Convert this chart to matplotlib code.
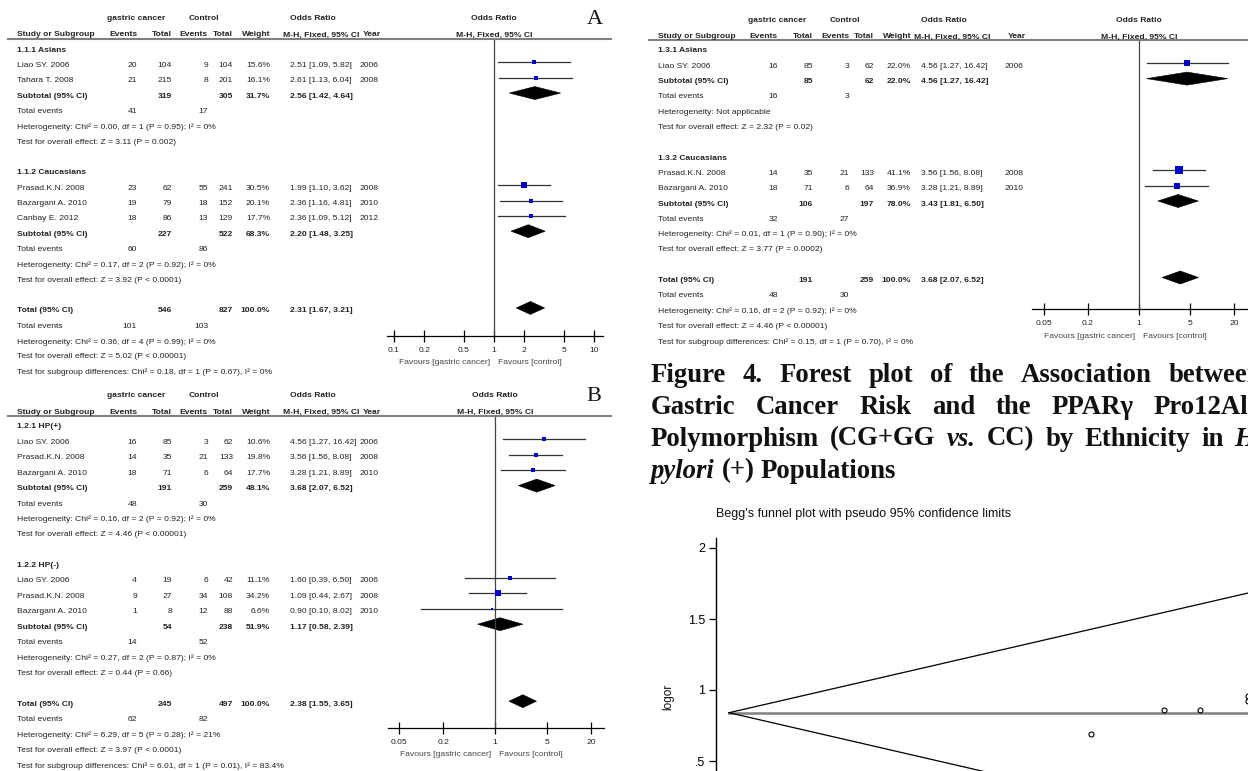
import matplotlib
matplotlib.use("Agg")
import matplotlib.pyplot as plt
from matplotlib.lines import Line2D
from matplotlib.patches import Polygon
from matplotlib.ticker import NullLocator, FixedLocator, FixedFormatter

W, H = 1248, 771
SANS = ["Liberation Sans", "DejaVu Sans"]
SERIF = ["Liberation Serif", "DejaVu Serif"]
FS = 6.1
INK = "#222222"
BLUE = "#0000c8"
plt.rcParams["font.family"] = SANS

# ---------------- Panel A: all populations, by ethnicity ----------------
A_GROUPS = ["1.1.1 Asians", "1.1.2 Caucasians"]
A_STUDY = ["Liao SY. 2006", "Tahara T. 2008", "Prasad.K.N. 2008", "Bazargani A. 2010", "Canbay E. 2012"]
A_GRP = [0, 0, 1, 1, 1]
A_E1 = [20, 21, 23, 19, 18]
A_N1 = [104, 215, 62, 79, 86]
A_E2 = [9, 8, 55, 18, 13]
A_N2 = [104, 201, 241, 152, 129]
A_W = [15.6, 16.1, 30.5, 20.1, 17.7]
A_OR = [2.51, 2.61, 1.99, 2.36, 2.36]
A_LO = [1.09, 1.13, 1.10, 1.16, 1.09]
A_HI = [5.82, 6.04, 3.62, 4.81, 5.12]
A_YEAR = [2006, 2008, 2008, 2010, 2012]
A_SUB_N1 = [319, 227]
A_SUB_N2 = [305, 522]
A_SUB_W = [31.7, 68.3]
A_SUB_OR = [2.56, 2.20]
A_SUB_LO = [1.42, 1.48]
A_SUB_HI = [4.64, 3.25]
A_SUB_TE1 = [41, 60]
A_SUB_TE2 = [17, 86]
A_SUB_HET = ["Heterogeneity: Chi² = 0.00, df = 1 (P = 0.95); I² = 0%",
             "Heterogeneity: Chi² = 0.17, df = 2 (P = 0.92); I² = 0%"]
A_SUB_Z = ["Test for overall effect: Z = 3.11 (P = 0.002)",
           "Test for overall effect: Z = 3.92 (P < 0.0001)"]
A_TOT = [546, 827, 100.0, 2.31, 1.67, 3.21]
A_TOT_TE = [101, 103]
A_TOT_HET = "Heterogeneity: Chi² = 0.36, df = 4 (P = 0.99); I² = 0%"
A_TOT_Z = "Test for overall effect: Z = 5.02 (P < 0.00001)"
A_SG = "Test for subgroup differences: Chi² = 0.18, df = 1 (P = 0.67), I² = 0%"
A_TICKS = [0.1, 0.2, 0.5, 1, 2, 5, 10]

# ---------------- Panel B: by H. pylori status ----------------
B_GROUPS = ["1.2.1 HP(+)", "1.2.2 HP(-)"]
B_STUDY = ["Liao SY. 2006", "Prasad.K.N. 2008", "Bazargani A. 2010",
           "Liao SY. 2006", "Prasad.K.N. 2008", "Bazargani A. 2010"]
B_GRP = [0, 0, 0, 1, 1, 1]
B_E1 = [16, 14, 18, 4, 9, 1]
B_N1 = [85, 35, 71, 19, 27, 8]
B_E2 = [3, 21, 6, 6, 34, 12]
B_N2 = [62, 133, 64, 42, 108, 88]
B_W = [10.6, 19.8, 17.7, 11.1, 34.2, 6.6]
B_OR = [4.56, 3.56, 3.28, 1.60, 1.09, 0.90]
B_LO = [1.27, 1.56, 1.21, 0.39, 0.44, 0.10]
B_HI = [16.42, 8.08, 8.89, 6.50, 2.67, 8.02]
B_YEAR = [2006, 2008, 2010, 2006, 2008, 2010]
B_SUB_N1 = [191, 54]
B_SUB_N2 = [259, 238]
B_SUB_W = [48.1, 51.9]
B_SUB_OR = [3.68, 1.17]
B_SUB_LO = [2.07, 0.58]
B_SUB_HI = [6.52, 2.39]
B_SUB_TE1 = [48, 14]
B_SUB_TE2 = [30, 52]
B_SUB_HET = ["Heterogeneity: Chi² = 0.16, df = 2 (P = 0.92); I² = 0%",
             "Heterogeneity: Chi² = 0.27, df = 2 (P = 0.87); I² = 0%"]
B_SUB_Z = ["Test for overall effect: Z = 4.46 (P < 0.00001)",
           "Test for overall effect: Z = 0.44 (P = 0.66)"]
B_TOT = [245, 497, 100.0, 2.38, 1.55, 3.65]
B_TOT_TE = [62, 82]
B_TOT_HET = "Heterogeneity: Chi² = 6.29, df = 5 (P = 0.28); I² = 21%"
B_TOT_Z = "Test for overall effect: Z = 3.97 (P < 0.0001)"
B_SG = "Test for subgroup differences: Chi² = 6.01, df = 1 (P = 0.01), I² = 83.4%"
B_TICKS = [0.05, 0.2, 1, 5, 20]

# ---------------- Figure 4: HP(+) by ethnicity ----------------
C_GROUPS = ["1.3.1 Asians", "1.3.2 Caucasians"]
C_STUDY = ["Liao SY. 2006", "Prasad.K.N. 2008", "Bazargani A. 2010"]
C_GRP = [0, 1, 1]
C_E1 = [16, 14, 18]
C_N1 = [85, 35, 71]
C_E2 = [3, 21, 6]
C_N2 = [62, 133, 64]
C_W = [22.0, 41.1, 36.9]
C_OR = [4.56, 3.56, 3.28]
C_LO = [1.27, 1.56, 1.21]
C_HI = [16.42, 8.08, 8.89]
C_YEAR = [2006, 2008, 2010]
C_SUB_N1 = [85, 106]
C_SUB_N2 = [62, 197]
C_SUB_W = [22.0, 78.0]
C_SUB_OR = [4.56, 3.43]
C_SUB_LO = [1.27, 1.81]
C_SUB_HI = [16.42, 6.50]
C_SUB_TE1 = [16, 32]
C_SUB_TE2 = [3, 27]
C_SUB_HET = ["Heterogeneity: Not applicable",
             "Heterogeneity: Chi² = 0.01, df = 1 (P = 0.90); I² = 0%"]
C_SUB_Z = ["Test for overall effect: Z = 2.32 (P = 0.02)",
           "Test for overall effect: Z = 3.77 (P = 0.0002)"]
C_TOT = [191, 259, 100.0, 3.68, 2.07, 6.52]
C_TOT_TE = [48, 30]
C_TOT_HET = "Heterogeneity: Chi² = 0.16, df = 2 (P = 0.92); I² = 0%"
C_TOT_Z = "Test for overall effect: Z = 4.46 (P < 0.00001)"
C_SG = "Test for subgroup differences: Chi² = 0.15, df = 1 (P = 0.70), I² = 0%"
C_TICKS = [0.05, 0.2, 1, 5, 20]

# ---------------- Begg's funnel plot ----------------
FUN_SE = [0.30, 0.36, 0.39, 0.43, 0.43]
FUN_LOGOR = [0.69, 0.86, 0.86, 0.92, 0.96]
FUN_POOLED = 0.84
FUN_YTICKS = [0.5, 1, 1.5, 2]
FUN_YLABELS = [".5", "1", "1.5", "2"]

CAPTION = ["Figure 4. Forest plot of the Association between",
           "Gastric Cancer Risk and the PPARγ Pro12Ala",
           "Polymorphism (CG+GG *vs.* CC) by Ethnicity in *H.*",
           "*pylori* (+) Populations"]


def pack(p):
    g = globals()
    keys = ["GROUPS", "STUDY", "GRP", "E1", "N1", "E2", "N2", "W", "OR", "LO", "HI", "YEAR",
            "SUB_N1", "SUB_N2", "SUB_W", "SUB_OR", "SUB_LO", "SUB_HI", "SUB_TE1", "SUB_TE2",
            "SUB_HET", "SUB_Z", "TOT", "TOT_TE", "TOT_HET", "TOT_Z", "SG", "TICKS"]
    return {k: g[p + "_" + k] for k in keys}


fig = plt.figure(figsize=(W / 100, H / 100), dpi=100)


def fx(px):
    return px / W


def fy(py):
    return 1 - py / H


def put(x, y, s, ha="left", bold=False, size=FS, family=SANS, color=INK, **kw):
    return fig.text(fx(x), fy(y), s, ha=ha, va="center", fontsize=size, family=family,
                    fontweight="bold" if bold else "normal", color=color, **kw)


def diamond(ax, c, lo, hi, y, h=6.5):
    ax.add_patch(Polygon([(lo, y), (c, y - h), (hi, y), (c, y + h)], closed=True,
                         fc="black", ec="black", lw=0.4))


def ci_text(o, lo, hi):
    return f"{o:.2f} [{lo:.2f}, {hi:.2f}]"


def forest(d, x0, top, rule_y, row0, step, ref_x, ppd, axis_y, ci_x, year_x):
    # headers
    put(x0 + 136, top, "gastric cancer", "center", True)
    put(x0 + 204, top, "Control", "center", True)
    put(x0 + ci_x + 23, top, "Odds Ratio", "center", True)
    put(ref_x, top, "Odds Ratio", "center", True)
    y2 = top + 16
    put(x0 + 17, y2, "Study or Subgroup", bold=True)
    for cx, s in [(137, "Events"), (172, "Total"), (208, "Events"), (233, "Total"), (270, "Weight")]:
        put(x0 + cx, y2, s, "right", True)
    put(x0 + ci_x - 7, y2, "M-H, Fixed, 95% CI", bold=True)
    put(x0 + year_x + 3, y2, "Year", bold=True)
    put(ref_x, y2, "M-H, Fixed, 95% CI", "center", True)
    fig.add_artist(Line2D([fx(x0 + 8), fx(x0 + 611)], [fy(rule_y)] * 2, color="#808080", lw=1.5))

    # graph area
    left, right = ref_x - 107, ref_x + 109
    ax = fig.add_axes([fx(left), fy(axis_y), (right - left) / W, (axis_y - rule_y) / H])
    ax.set_xscale("log")
    ax.set_xlim(10 ** ((left - ref_x) / ppd), 10 ** ((right - ref_x) / ppd))
    ax.set_ylim(axis_y, rule_y)
    ax.patch.set_alpha(0)
    for s in ("top", "left", "right"):
        ax.spines[s].set_visible(False)
    ax.spines["bottom"].set_linewidth(0.9)
    ax.xaxis.set_major_locator(FixedLocator(d["TICKS"]))
    ax.xaxis.set_major_formatter(FixedFormatter([f"{t:g}" for t in d["TICKS"]]))
    ax.xaxis.set_minor_locator(NullLocator())
    ax.tick_params(axis="x", direction="inout", length=8, width=0.9, labelsize=FS, pad=4,
                   labelcolor=INK)
    ax.set_yticks([])
    ax.axvline(1, color="#444444", lw=0.9)
    put(ref_x - 4, axis_y + 27, "Favours [gastric cancer]", "right", color="#444444")
    put(ref_x + 4, axis_y + 27, "Favours [control]", color="#444444")

    def y_of(i):
        return row0 + step * i

    mk = -3
    i = 0
    for g, name in enumerate(d["GROUPS"]):
        put(x0 + 17, y_of(i), name, bold=True)
        i += 1
        for k, gi in enumerate(d["GRP"]):
            if gi != g:
                continue
            y = y_of(i)
            put(x0 + 17, y, d["STUDY"][k])
            for cx, v in ((137, d["E1"][k]), (172, d["N1"][k]), (208, d["E2"][k]), (233, d["N2"][k])):
                put(x0 + cx, y, str(v), "right")
            put(x0 + 270, y, f"{d['W'][k]:.1f}%", "right")
            put(x0 + ci_x, y, ci_text(d["OR"][k], d["LO"][k], d["HI"][k]))
            put(x0 + year_x, y, str(d["YEAR"][k]))
            ax.plot([d["LO"][k], d["HI"][k]], [y + mk] * 2, color="#333333", lw=0.9)
            ax.plot(d["OR"][k], y + mk, marker="s", ms=0.8 * d["W"][k] ** 0.5, color=BLUE, mew=0)
            i += 1
        y = y_of(i)
        put(x0 + 17, y, "Subtotal (95% CI)", bold=True)
        put(x0 + 172, y, str(d["SUB_N1"][g]), "right", True)
        put(x0 + 233, y, str(d["SUB_N2"][g]), "right", True)
        put(x0 + 270, y, f"{d['SUB_W'][g]:.1f}%", "right", True)
        put(x0 + ci_x, y, ci_text(d["SUB_OR"][g], d["SUB_LO"][g], d["SUB_HI"][g]), bold=True)
        diamond(ax, d["SUB_OR"][g], d["SUB_LO"][g], d["SUB_HI"][g], y + mk)
        i += 1
        y = y_of(i)
        put(x0 + 17, y, "Total events")
        put(x0 + 137, y, str(d["SUB_TE1"][g]), "right")
        put(x0 + 208, y, str(d["SUB_TE2"][g]), "right")
        put(x0 + 17, y_of(i + 1), d["SUB_HET"][g])
        put(x0 + 17, y_of(i + 2), d["SUB_Z"][g])
        i += 4

    n1, n2, w, o, lo, hi = d["TOT"]
    y = y_of(i)
    put(x0 + 17, y, "Total (95% CI)", bold=True)
    put(x0 + 172, y, str(n1), "right", True)
    put(x0 + 233, y, str(n2), "right", True)
    put(x0 + 270, y, f"{w:.1f}%", "right", True)
    put(x0 + ci_x, y, ci_text(o, lo, hi), bold=True)
    diamond(ax, o, lo, hi, y + mk)
    y = y_of(i + 1)
    put(x0 + 17, y, "Total events")
    put(x0 + 137, y, str(d["TOT_TE"][0]), "right")
    put(x0 + 208, y, str(d["TOT_TE"][1]), "right")
    put(x0 + 17, y_of(i + 2), d["TOT_HET"])
    put(x0 + 17, y_of(i + 3), d["TOT_Z"])
    put(x0 + 17, y_of(i + 4), d["SG"])


forest(pack("A"), 0, 19, 39, 50, 15.35, 494, 100.0, 336, 290, 360)
forest(pack("B"), 0, 396, 416, 427, 15.4, 495, 73.8, 728, 290, 360)
forest(pack("C"), 641, 21, 40, 51, 15.3, 1139, 73.0, 309, 280, 364)
put(595, 20, "A", "center", size=16, family=SERIF, color="#111111")
put(594, 397, "B", "center", size=16, family=SERIF, color="#111111")

# ---------------- caption (justified, bold serif; runs past the right edge like the source) ----------------
renderer = fig.canvas.get_renderer()
CAP_L, CAP_R = 651, 1262
cap_y = [375, 407, 439, 471]
for li, line in enumerate(CAPTION):
    arts = []
    for word in line.split():
        it = word.startswith("*")
        arts.append(fig.text(0, fy(cap_y[li]), word.strip("*"), fontsize=19.3, family=SERIF,
                             fontweight="bold", style="italic" if it else "normal",
                             va="center", color="#111111"))
    widths = [a.get_window_extent(renderer).width for a in arts]
    if li < len(CAPTION) - 1:
        gap = (CAP_R - CAP_L - sum(widths)) / (len(arts) - 1)
    else:
        gap = 19.3 * 100 / 72 * 0.25
    x = CAP_L
    for a, wd in zip(arts, widths):
        a.set_x(fx(x))
        x += wd + gap

# ---------------- Begg's funnel plot ----------------
fl, ft, fr, fb = 716, 538, 1300, 900
px_per_unit = 142.0
y_one = 690
se0_x, px_per_se = 729, 1207.0
fax = fig.add_axes([fx(fl), fy(fb), (fr - fl) / W, (fb - ft) / H])
fax.set_xlim((fl - se0_x) / px_per_se, (fr - se0_x) / px_per_se)
fax.set_ylim(1 - (fb - y_one) / px_per_unit, 1 + (y_one - ft) / px_per_unit)
fax.patch.set_alpha(0)
for s in ("top", "right", "bottom"):
    fax.spines[s].set_visible(False)
fax.spines["left"].set_linewidth(1.0)
fax.set_xticks([])
fax.set_yticks(FUN_YTICKS)
fax.set_yticklabels(FUN_YLABELS)
fax.tick_params(axis="y", direction="out", length=5, width=0.9, labelsize=9, pad=3)
se_end = (fr - se0_x) / px_per_se
fax.plot([0, se_end], [FUN_POOLED, FUN_POOLED], color="#808080", lw=1.8)
fax.plot([0, se_end], [FUN_POOLED, FUN_POOLED + 1.96 * se_end], color="black", lw=0.9)
fax.plot([0, se_end], [FUN_POOLED, FUN_POOLED - 1.96 * se_end], color="black", lw=0.9)
fax.plot(FUN_SE, FUN_LOGOR, ls="none", marker="o", ms=3.6, mfc="none", mec="black", mew=0.8)
put(716, 514, "Begg's funnel plot with pseudo 95% confidence limits", size=9, color="#111111")
put(668, 697, "logor", "center", size=8.5, color="#111111", rotation=90)

fig.savefig("out.png", dpi=100)
